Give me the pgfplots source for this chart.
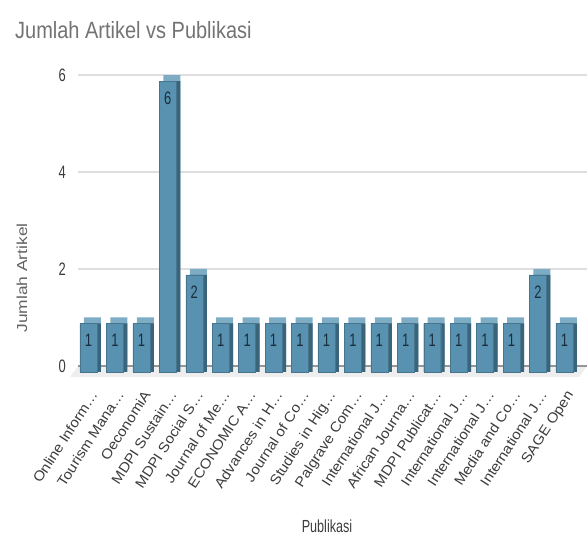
\documentclass[border=0pt]{standalone}
\usepackage{pgfplots}
\pgfplotsset{compat=1.18}
\usepackage{fontspec}
\setmainfont{Liberation Sans}
\newfontfamily\narrowfont{Liberation Sans}[FakeStretch=0.72]
\newfontfamily\titlefont{Liberation Sans}[FakeStretch=0.85]
\newfontfamily\tallfont{Liberation Sans}[FakeStretch=1.2]
\newfontfamily\tickfont{Liberation Sans}[FakeStretch=1.08]
\definecolor{frontc}{RGB}{88,146,176}
\definecolor{sidec}{RGB}{58,100,122}
\definecolor{topc}{RGB}{125,172,196}
\definecolor{gridc}{RGB}{222,222,222}
\definecolor{zeroc}{RGB}{150,150,150}
\definecolor{floorc}{RGB}{238,238,238}
\definecolor{textc}{RGB}{60,60,60}
\definecolor{titlec}{RGB}{115,115,115}
\definecolor{valc}{RGB}{25,45,60}
\begin{document}
\begin{tikzpicture}
\path[use as bounding box] (0,0) rectangle (587pt,537pt);
\begin{axis}[
  at={(78pt,171pt)}, anchor=south west,
  scale only axis, width=509pt, height=291pt,
  xmin=-0.397, xmax=18.854, ymin=0, ymax=6,
  /pgf/number format/assume math mode=true,
  ybar, bar width=17pt,
  clip=false,
  axis line style={draw=none},
  major tick length=0pt,
  ytick={0,2,4,6},
  ymajorgrids, grid style={color=gridc, line width=1.5pt},
  yticklabel style={font=\narrowfont\fontsize{18}{18}\selectfont, color=textc, anchor=east, inner sep=0pt},
  yticklabel shift=12pt,
  xtick={0,...,18},
  xticklabels={Online Inform…, Tourism Mana…, OeconomiA, MDPI Sustain…, MDPI Social S…, Journal of Me…, ECONOMIC A…, Advances in H…, Journal of Co…, Studies in Hig…, Palgrave Com…, International J…, African Journa…, MDPI Publicat…, International J…, International J…, Media and Co…, International J…, SAGE Open},
  xticklabel style={font=\tickfont\fontsize{14}{14}\selectfont, color=textc, rotate=57, anchor=north east, inner sep=0pt, xshift=2pt},
  xticklabel shift=25pt,
]
% floor
\fill[floorc] (axis cs:-0.397,0) -- (axis cs:18.854,0) -- ([xshift=-8pt,yshift=-11pt]axis cs:18.854,0) -- ([xshift=-8pt,yshift=-11pt]axis cs:-0.397,0) -- cycle;
\draw[zeroc, line width=2pt] (axis cs:-0.397,0) -- (axis cs:18.854,0);
% back face (top colour)
\addplot[fill=topc, draw=none, bar shift=4pt] coordinates {
(0,1) (1,1) (2,1) (3,6) (4,2) (5,1) (6,1) (7,1) (8,1) (9,1) (10,1) (11,1) (12,1) (13,1) (14,1) (15,1) (16,1) (17,2) (18,1)};
% side face
\addplot[fill=sidec, draw=none, bar shift=4pt, yshift=-6pt] coordinates {
(0,1) (1,1) (2,1) (3,6) (4,2) (5,1) (6,1) (7,1) (8,1) (9,1) (10,1) (11,1) (12,1) (13,1) (14,1) (15,1) (16,1) (17,2) (18,1)};
% front face
\addplot[fill=frontc, draw=frontc!80!black, line width=0.4pt, bar shift=0pt, yshift=-6pt,
  nodes near coords,
  every node near coord/.append style={anchor=center, yshift=-17pt, font=\narrowfont\fontsize{18}{18}\selectfont, color=valc}] coordinates {
(0,1) (1,1) (2,1) (3,6) (4,2) (5,1) (6,1) (7,1) (8,1) (9,1) (10,1) (11,1) (12,1) (13,1) (14,1) (15,1) (16,1) (17,2) (18,1)};
\end{axis}
\node[anchor=base west, font=\titlefont\fontsize{23.5}{23.5}\selectfont, color=titlec, inner sep=0pt] at (15pt,498pt) {Jumlah Artikel vs Publikasi};
\node[rotate=90, font=\tallfont\fontsize{14.5}{14.5}\selectfont, color=textc!80!white, inner sep=0pt] at (22pt,259pt) {Jumlah Artikel};
\node[anchor=base, font=\narrowfont\fontsize{17.5}{17.5}\selectfont, color=textc, inner sep=0pt] at (327pt,4pt) {Publikasi};
\end{tikzpicture}
\end{document}
